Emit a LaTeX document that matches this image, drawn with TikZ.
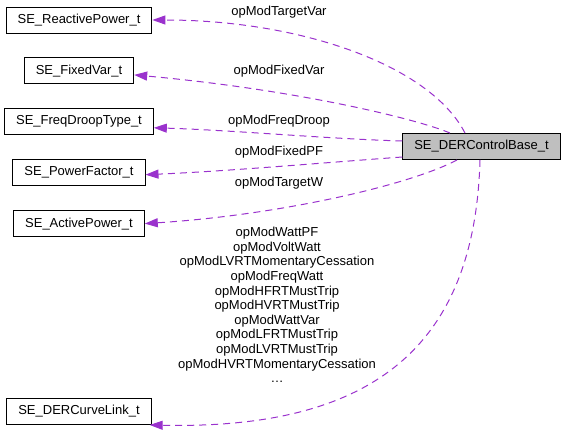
\documentclass[tikz,border=0pt]{standalone}
\usepackage{fontspec}
\setmainfont{Liberation Sans}
\usepackage{tikz}
\usetikzlibrary{arrows.meta,positioning}

\definecolor{orchid}{HTML}{9A32CD}

\begin{document}
\begin{tikzpicture}[
  x=1pt, y=-1pt,
  node distance=24pt,
  font=\fontsize{13}{14.6}\selectfont,
  cls/.style={draw,line width=0.9pt,inner xsep=11.5pt,inner ysep=0pt,minimum height=26pt},
  dep/.style={-{Triangle[length=13pt,width=9pt]},orchid,line width=1pt,dash pattern=on 7pt off 5pt},
  lbl/.style={inner sep=0pt,align=center}
]
\useasboundingbox (0,0) rectangle (567,435);
\node[cls,fill=black!25] (ctl) at (481.5,146.5) {SE\_DERControlBase\_t};
\node[cls] (reactive) at (79,20) {SE\_ReactivePower\_t};
\node[cls,below=of reactive] (fixedvar) {SE\_FixedVar\_t};
\node[cls,below=of fixedvar] (freqdroop) {SE\_FreqDroopType\_t};
\node[cls,below=of freqdroop] (powerfactor) {SE\_PowerFactor\_t};
\node[cls,below=of powerfactor] (activepower) {SE\_ActivePower\_t};
\node[cls] (curvelink) at (79,411.5) {SE\_DERCurveLink\_t};
% member links
\draw[dep] ([xshift=-16.5pt]ctl.north) .. controls (430,65) and (300,20) .. (reactive.east);
\draw[dep] ([xshift=-31.5pt]ctl.north) .. controls (420,120) and (300,90) .. ([yshift=-4pt]fixedvar.east);
\draw[dep] ([yshift=5.5pt]ctl.west) .. controls (330,139) and (230,130) .. ([yshift=-6pt]freqdroop.east);
\draw[dep] ([yshift=-10.5pt]ctl.west) .. controls (320,163) and (230,171) .. ([yshift=-2pt]powerfactor.east);
\draw[dep] ([xshift=-24.5pt]ctl.south) .. controls (410,185) and (280,215) .. (activepower.east);
\draw[dep] ([xshift=-1.5pt]ctl.south) .. controls (475,340) and (380,430) .. ([xshift=-2pt]curvelink.south east);
% labels
\node[lbl] (ltargetvar) at (279,12) {opModTargetVar};
\node[lbl] (lfixedvar) at (279,71) {opModFixedVar};
\node[lbl] (lfreqdroop) at (279,121) {opModFreqDroop};
\node[lbl] (lfixedpf) at (279,152) {opModFixedPF};
\node[lbl] (ltargetw) at (279,183) {opModTargetW};
\node[lbl] (lcurves) at (277,305) {opModWattPF\\opModVoltWatt\\opModLVRTMomentaryCessation\\opModFreqWatt\\opModHFRTMustTrip\\opModHVRTMustTrip\\opModWattVar\\opModLFRTMustTrip\\opModLVRTMustTrip\\opModHVRTMomentaryCessation\\\dots};
\end{tikzpicture}
\end{document}
